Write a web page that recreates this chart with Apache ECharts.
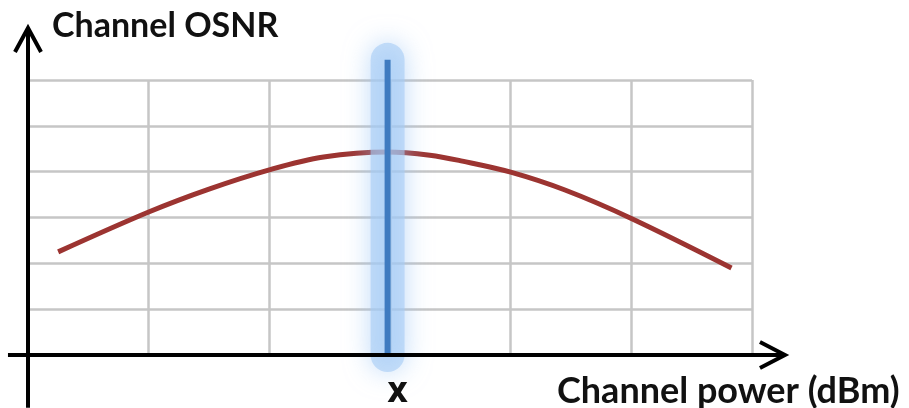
<!DOCTYPE html>
<html>
<head>
<meta charset="utf-8">
<script src="https://cdn.jsdelivr.net/npm/echarts@6/dist/echarts.min.js"></script>
<style>html,body{margin:0;padding:0;background:#fff}#c{width:909px;height:408px}</style>
</head>
<body>
<div id="c"></div>
<script>
// ---- data ----
var curveX = [0.25, 1.0, 1.5, 2.0, 2.45, 2.98, 3.33, 3.6, 4.0, 4.45, 5.0, 5.83];
var curveY = [2.25, 3.12, 3.62, 4.04, 4.32, 4.43, 4.36, 4.23, 3.99, 3.60, 2.98, 1.90];
var optimumX = 2.98;          // position of the blue optimum marker
var markerTop = 6.44;         // top of the blue marker (data units)
var markerLabel = 'X';
var yTitle = 'Channel OSNR';
var xTitle = 'Channel power (dBm)';

var chart = echarts.init(document.getElementById('c'));
var FONT = 'Lato';
var curveData = curveX.map(function (x, i) { return [x, curveY[i]]; });
var markerData = [[optimumX, 0], [optimumX, markerTop]];
chart.setOption({
  animation: false,
  title: [
    { text: yTitle, left: 47, top: 4, textStyle: { fontFamily: FONT, fontWeight: 'bold', fontSize: 34, color: '#111' } },
    { text: xTitle, left: 552, top: 368, textStyle: { fontFamily: FONT, fontWeight: 'bold', fontSize: 36, color: '#111' } }
  ],
  grid: { left: 28, right: 157, top: 80, bottom: 53 },
  xAxis: { type: 'value', min: 0, max: 6, interval: 1,
    axisLine: { show: false }, axisTick: { show: false }, axisLabel: { show: false },
    splitLine: { show: true, lineStyle: { color: '#c6c6c6', width: 2.5 } } },
  yAxis: { type: 'value', min: 0, max: 6, interval: 1,
    axisLine: { show: false }, axisTick: { show: false }, axisLabel: { show: false },
    splitLine: { show: true, lineStyle: { color: '#c6c6c6', width: 2.5 } } },
  series: [
    { type: 'line', data: curveData, smooth: 0.35, symbol: 'none',
      lineStyle: { color: '#9c3431', width: 5 }, z: 3 },
    { type: 'line', data: markerData, clip: false, symbol: 'none', silent: true,
      lineStyle: { color: 'rgba(165,203,245,0.6)', width: 34, cap: 'round',
        shadowBlur: 26, shadowColor: 'rgba(150,195,245,1)' }, z: 4 },
    { type: 'line', data: markerData, clip: false, symbol: 'none', silent: true,
      lineStyle: { color: '#3f7bc0', width: 6, cap: 'butt' }, z: 5 }
  ]
});

// axes with open arrow heads and the marker label, placed through the grid's coordinate system
function px(x, y) { return chart.convertToPixel({ gridIndex: 0 }, [x, y]); }
function poly(pts) {
  return { type: 'polyline', z: 100, silent: true,
    shape: { points: pts.map(function (p) { return px(p[0], p[1]); }) },
    style: { stroke: '#000', lineWidth: 4, fill: null, lineJoin: 'miter' } };
}
var lp = px(optimumX, 0);
chart.setOption({
  title: [{}, {}, { text: markerLabel, left: lp[0] - 5, top: lp[1] + 20,
    textStyle: { fontFamily: 'Open Sans', fontWeight: 800, fontSize: 28, color: '#111' } }],
  graphic: [
    poly([[-0.166, 0], [6.273, 0]]),
    poly([[6.066, 0.284], [6.273, 0], [6.066, -0.284]]),
    poly([[0, -1.15], [0, 7.135]]),
    poly([[-0.108, 6.61], [0, 7.135], [0.108, 6.61]])
  ]
});
</script>
</body>
</html>
